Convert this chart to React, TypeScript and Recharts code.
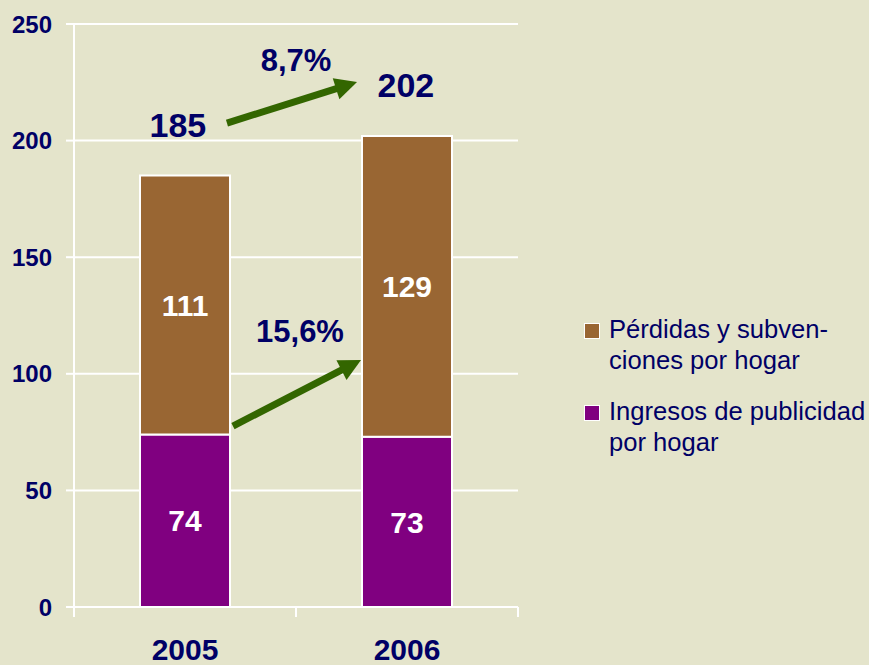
import React from "react";
import {
  BarChart,
  Bar,
  XAxis,
  YAxis,
  CartesianGrid,
  LabelList,
  Legend,
  ReferenceLine,
  ReferenceDot,
} from "recharts";

const years = ["2005", "2006"];
const publicidad = [74, 73];
const perdidas = [111, 129];
const totals = [185, 202];
const growthTotal = "8,7%";
const growthPerdidas = "15,6%";
const yTicks = [0, 50, 100, 150, 200, 250];

const data = years.map((year, i) => ({
  year,
  publicidad: publicidad[i],
  perdidas: perdidas[i],
}));

const NAVY = "#000066";
const BROWN = "#996633";
const PURPLE = "#800080";
const GREEN = "#336600";
const BG = "#E4E4CB";
const FONT = "'Liberation Sans', Arial, sans-serif";

const W = 869;
const H = 665;
const LEFT = 74;
const PLOT_RIGHT = 518;
const BAND = (PLOT_RIGHT - LEFT) / years.length;

const legendItems = [
  { color: BROWN, lines: ["Pérdidas y subven-", "ciones por hogar"] },
  { color: PURPLE, lines: ["Ingresos de publicidad", "por hogar"] },
];

// arrow drawn by the reference line segment
function Arrow(props: any) {
  const { x1, y1, x2, y2 } = props;
  const dx = x2 - x1;
  const dy = y2 - y1;
  const len = Math.sqrt(dx * dx + dy * dy) || 1;
  const ux = dx / len;
  const uy = dy / len;
  const head = 22;
  const half = 11;
  const bx = x2 - ux * head;
  const by = y2 - uy * head;
  return (
    <g>
      <line x1={x1} y1={y1} x2={bx + ux * 2} y2={by + uy * 2} stroke={GREEN} strokeWidth={7} />
      <polygon
        points={`${x2},${y2} ${bx - uy * half},${by + ux * half} ${bx + uy * half},${by - ux * half}`}
        fill={GREEN}
      />
    </g>
  );
}

function YearTick(props: any) {
  const { x, y, payload, index } = props;
  return (
    <g>
      {index === 0 && (
        <line x1={x - BAND / 2} y1={y} x2={x - BAND / 2} y2={y + 10} stroke="#fff" strokeWidth={2} />
      )}
      <line x1={x + BAND / 2} y1={y} x2={x + BAND / 2} y2={y + 10} stroke="#fff" strokeWidth={2} />
      <text x={x} y={y + 53} textAnchor="middle" fill={NAVY} fontSize={30} fontWeight="bold">
        {payload.value}
      </text>
    </g>
  );
}

function LegendBox() {
  return (
    <div style={{ fontFamily: FONT, color: NAVY, fontSize: 25.6 }}>
      {legendItems.map((item, i) => (
        <div key={i} style={{ display: "flex", marginBottom: 20 }}>
          <div
            style={{
              width: 14,
              height: 14,
              background: item.color,
              border: "1px solid #fff",
              marginTop: 9,
              marginRight: 9,
              flexShrink: 0,
            }}
          />
          <div style={{ lineHeight: "31px", whiteSpace: "nowrap" }}>
            {item.lines.map((l, j) => (
              <div key={j}>{l}</div>
            ))}
          </div>
        </div>
      ))}
    </div>
  );
}

const textLabel = (value: string, size: number) => ({
  value,
  position: "center" as const,
  fill: NAVY,
  fontSize: size,
  fontWeight: "bold",
});

export default function App() {
  return (
    <div style={{ position: "absolute", left: 0, top: 0, width: W, height: H, background: BG, fontFamily: FONT }}>
      <BarChart
        width={W}
        height={H}
        data={data}
        margin={{ top: 24, right: W - PLOT_RIGHT, bottom: 0, left: 0 }}
        style={{ fontFamily: FONT }}
      >
        <CartesianGrid horizontal vertical={false} stroke="#fff" strokeWidth={2} />
        <XAxis
          dataKey="year"
          height={58}
          axisLine={{ stroke: "#fff", strokeWidth: 2 }}
          tickLine={false}
          tickSize={0}
          tickMargin={0}
          tick={<YearTick />}
          interval={0}
        />
        {/* helper axis: 0..1 across the plot width, for annotations */}
        <XAxis xAxisId="num" type="number" domain={[0, 1]} allowDataOverflow hide />
        <YAxis
          width={LEFT}
          domain={[0, 250]}
          ticks={yTicks}
          axisLine={{ stroke: "#fff", strokeWidth: 2 }}
          tickLine={{ stroke: "#fff", strokeWidth: 2 }}
          tickSize={8}
          tickMargin={14}
          tick={{ fill: NAVY, fontSize: 24, fontWeight: "bold" }}
        />
        <Bar dataKey="publicidad" stackId="a" fill={PURPLE} stroke="#fff" strokeWidth={2} barSize={90} isAnimationActive={false}>
          <LabelList dataKey="publicidad" position="center" fill="#fff" fontSize={30} fontWeight="bold" />
        </Bar>
        <Bar dataKey="perdidas" stackId="a" fill={BROWN} stroke="#fff" strokeWidth={2} barSize={90} isAnimationActive={false}>
          <LabelList dataKey="perdidas" position="center" fill="#fff" fontSize={30} fontWeight="bold" />
        </Bar>
        <ReferenceLine
          xAxisId="num"
          ifOverflow="visible"
          segment={[{ x: 0.3445, y: 207.5 }, { x: 0.6375, y: 225.1 }]}
          shape={Arrow}
        />
        <ReferenceLine
          xAxisId="num"
          ifOverflow="visible"
          segment={[{ x: 0.358, y: 77.6 }, { x: 0.6465, y: 105.9 }]}
          shape={Arrow}
        />
        <ReferenceDot xAxisId="num" ifOverflow="visible" x={0.234} y={206.7} r={0} fill="none" stroke="none" label={textLabel(String(totals[0]), 34)} />
        <ReferenceDot xAxisId="num" ifOverflow="visible" x={0.7475} y={223.8} r={0} fill="none" stroke="none" label={textLabel(String(totals[1]), 34)} />
        <ReferenceDot xAxisId="num" ifOverflow="visible" x={0.5} y={234.6} r={0} fill="none" stroke="none" label={textLabel(growthTotal, 31)} />
        <ReferenceDot xAxisId="num" ifOverflow="visible" x={0.509} y={118.4} r={0} fill="none" stroke="none" label={textLabel(growthPerdidas, 31)} />
        <Legend
          layout="horizontal"
          verticalAlign="middle"
          align="center"
          content={() => <LegendBox />}
          wrapperStyle={{ left: 584, top: 314, width: 290 }}
        />
      </BarChart>
    </div>
  );
}
